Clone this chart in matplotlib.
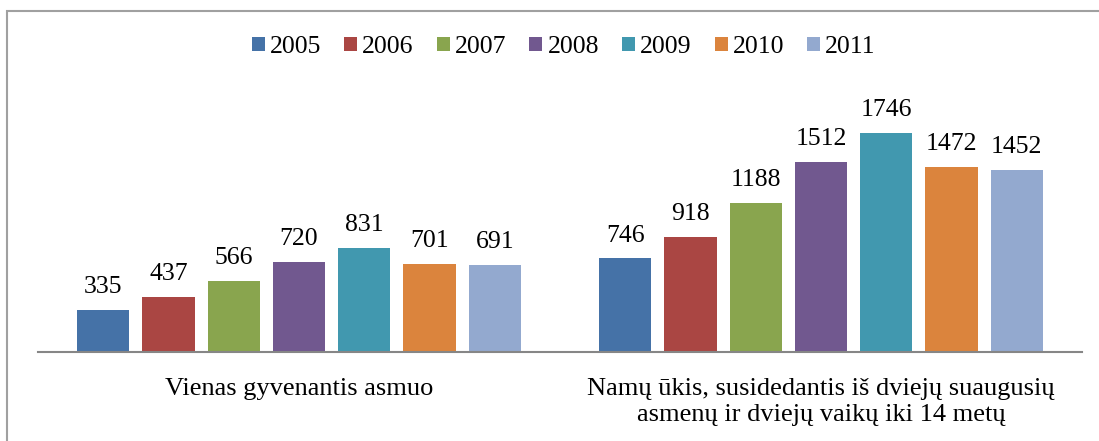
import matplotlib
matplotlib.use('Agg')
import matplotlib.pyplot as plt
import numpy as np
from matplotlib.patches import Rectangle

# Duomenys
categories = ['Vienas gyvenantis asmuo',
              'Namų ūkis, susidedantis iš dviejų suaugusių\nasmenų ir dviejų vaikų iki 14 metų']
years = ['2005', '2006', '2007', '2008', '2009', '2010', '2011']
values_single = [335, 437, 566, 720, 831, 701, 691]
values_family = [746, 918, 1188, 1512, 1746, 1472, 1452]
colors = ['#4572A7', '#AA4643', '#89A54E', '#71588F', '#4198AF', '#DB843D', '#93A9CF']

plt.rcParams['font.family'] = ['Liberation Serif', 'DejaVu Serif']

fig = plt.figure(figsize=(10.99, 4.41), dpi=100)
ax = fig.add_axes([38 / 1099, 89 / 441, 1044 / 1099, 251 / 441])

x = np.arange(len(categories))
slot = 0.125
for i, year in enumerate(years):
    vals = [values_single[i], values_family[i]]
    bars = ax.bar(x + (i - 3) * slot, vals, width=0.1, color=colors[i], label=year, zorder=2)
    for b, v in zip(bars, vals):
        ax.annotate(str(v), (b.get_x() + b.get_width() / 2, b.get_height()),
                    xytext=(0, 8.5), textcoords='offset points',
                    ha='center', va='bottom', fontsize=18.5)

ax.set_xlim(-0.5, 1.5)
ax.set_ylim(0, 2000)
ax.set_yticks([])
ax.set_xticks(x)
ax.set_xticklabels(categories, fontsize=19, linespacing=1.2)
ax.tick_params(axis='x', length=0, pad=19)
for s in ['top', 'right', 'left']:
    ax.spines[s].set_visible(False)
ax.spines['bottom'].set_color('#868686')
ax.spines['bottom'].set_linewidth(1.5)

leg = fig.legend(loc='center', bbox_to_anchor=(0.513, 1 - 47 / 441), ncol=7, frameon=False,
                 fontsize=18.5, handlelength=0.5, handleheight=0.5, handletextpad=0.2,
                 columnspacing=0.9)

# ramelis aplink diagramą
fig.patches.append(Rectangle((7 / 1099, -0.1), 1.2, 1 - 11 / 441 + 0.1,
                             transform=fig.transFigure, fill=False,
                             edgecolor='#a0a0a0', linewidth=1.5))

fig.savefig('out.png', dpi=100)
